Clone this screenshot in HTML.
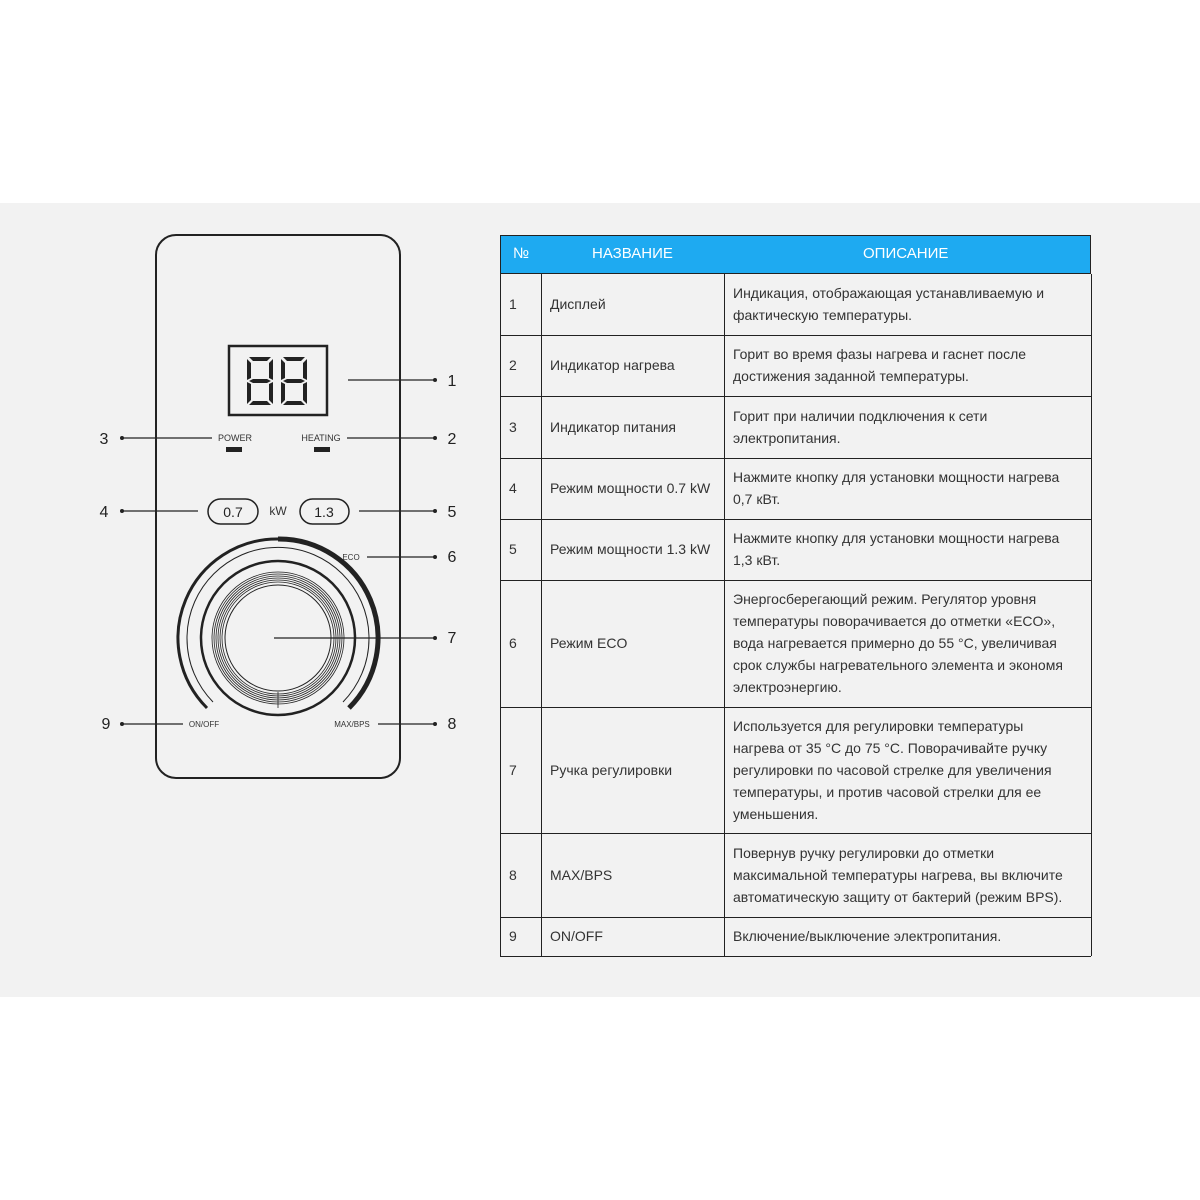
<!DOCTYPE html>
<html><head><meta charset="utf-8"><style>
body{margin:0;width:1200px;height:1200px;background:#fff;position:relative;font-family:"Liberation Sans","DejaVu Sans",sans-serif;overflow:hidden}
.band{position:absolute;left:0;top:203px;width:1200px;height:794px;background:#f2f2f2}
svg{position:absolute;left:0;top:0}
.t{position:absolute;font-size:14px;color:#333;line-height:22px}
.hd{position:absolute;left:500px;top:235px;width:591px;height:39px;background:#1eaaf1;border:1px solid #222;box-sizing:border-box}
.hd span{position:absolute;color:#fff;font-size:15px;top:9px}
.h{position:absolute;height:1px;background:#222;left:500px;width:591px}
.v{position:absolute;width:1px;background:#222;top:274px;height:682px}
</style></head><body>
<div class="band"></div>
<svg width="1200" height="1200" viewBox="0 0 1200 1200" font-family="Liberation Sans, sans-serif">
<rect x="156" y="235" width="244" height="543" rx="20" fill="none" stroke="#222" stroke-width="2"/>
<rect x="229" y="346" width="98" height="69" fill="none" stroke="#222" stroke-width="2.5"/>
<g fill="#222">
<g id="d">
<polygon points="249,357 271,357 267,361 253,361"/>
<polygon points="247,359 251,363 251,378 247,380"/>
<polygon points="273,359 269,363 269,378 273,380"/>
<polygon points="249,381 253,379 267,379 271,381 267,383 253,383"/>
<polygon points="247,382 251,384 251,400 247,404"/>
<polygon points="273,382 269,384 269,400 273,404"/>
<polygon points="249,405 253,401 267,401 271,405"/>
</g>
<use href="#d" x="34"/>
</g>
<g font-size="9" fill="#333" text-anchor="middle">
<text x="235" y="441">POWER</text><text x="321" y="441">HEATING</text>
<text x="278" y="515" font-size="12">kW</text>
<text x="351" y="560" font-size="8">ECO</text>
<text x="204" y="727" font-size="8">ON/OFF</text>
<text x="352" y="727" font-size="8">MAX/BPS</text>
</g>
<rect x="226" y="447" width="16" height="5" fill="#222"/>
<rect x="314" y="447" width="16" height="5" fill="#222"/>
<rect x="208" y="499" width="50" height="25" rx="12.5" fill="none" stroke="#222" stroke-width="1.5"/>
<rect x="300" y="499" width="49" height="25" rx="12.5" fill="none" stroke="#222" stroke-width="1.5"/>
<text x="233" y="517" font-size="14" text-anchor="middle" fill="#222">0.7</text>
<text x="324" y="517" font-size="14" text-anchor="middle" fill="#222">1.3</text>
<g fill="none" stroke="#222">
<path d="M207,708 A99,99 0 0 1 278,539" stroke-width="3"/>
<path d="M278,539 A99,99 0 0 1 349,708" stroke-width="5"/>
<path d="M213,702 A91,91 0 1 1 343,702" stroke-width="1"/>
<circle cx="278" cy="638" r="77" stroke-width="2.5"/>
<circle cx="278" cy="638" r="66" stroke-width="0.8"/>
<circle cx="278" cy="638" r="64" stroke-width="0.8"/>
<circle cx="278" cy="638" r="62" stroke-width="0.8"/>
<circle cx="278" cy="638" r="60" stroke-width="0.8"/>
<circle cx="278" cy="638" r="58" stroke-width="0.8"/>
<circle cx="278" cy="638" r="56" stroke-width="0.8"/>
<circle cx="278" cy="638" r="53" stroke-width="1"/>
<line x1="278" y1="692" x2="278" y2="708" stroke-width="0.8"/>
<g stroke-width="1.2">
<line x1="348" y1="380" x2="435" y2="380"/>
<line x1="122" y1="438" x2="212" y2="438"/>
<line x1="347" y1="438" x2="435" y2="438"/>
<line x1="122" y1="511" x2="198" y2="511"/>
<line x1="359" y1="511" x2="435" y2="511"/>
<line x1="367" y1="557" x2="435" y2="557"/>
<line x1="274" y1="638" x2="435" y2="638"/>
<line x1="378" y1="724" x2="435" y2="724"/>
<line x1="122" y1="724" x2="183" y2="724"/>
</g></g>
<g fill="#222">
<circle cx="435" cy="380" r="2"/><circle cx="122" cy="438" r="2"/><circle cx="435" cy="438" r="2"/>
<circle cx="122" cy="511" r="2"/><circle cx="435" cy="511" r="2"/><circle cx="435" cy="557" r="2"/>
<circle cx="435" cy="638" r="2"/><circle cx="435" cy="724" r="2"/><circle cx="122" cy="724" r="2"/>
</g>
<g font-size="16" fill="#222" text-anchor="middle">
<text x="452" y="386">1</text><text x="452" y="444">2</text><text x="104" y="444">3</text>
<text x="104" y="517">4</text><text x="452" y="517">5</text><text x="452" y="562">6</text>
<text x="452" y="643">7</text><text x="452" y="729">8</text><text x="106" y="729">9</text>
</g>
</svg>
<div class="hd"><span style="left:12px">№</span><span style="left:91px">НАЗВАНИЕ</span><span style="left:362px">ОПИСАНИЕ</span></div>
<div class="h" style="top:335px"></div><div class="h" style="top:396px"></div><div class="h" style="top:458px"></div>
<div class="h" style="top:519px"></div><div class="h" style="top:580px"></div><div class="h" style="top:707px"></div>
<div class="h" style="top:833px"></div><div class="h" style="top:917px"></div><div class="h" style="top:956px"></div>
<div class="v" style="left:500px"></div><div class="v" style="left:541px"></div><div class="v" style="left:724px"></div><div class="v" style="left:1091px"></div>
<div class="t" style="left:509px;top:293px">1</div><div class="t" style="left:550px;top:293px">Дисплей</div>
<div class="t" style="left:733px;top:282px">Индикация, отображающая устанавливаемую и<br>фактическую температуры.</div>
<div class="t" style="left:509px;top:354px">2</div><div class="t" style="left:550px;top:354px">Индикатор нагрева</div>
<div class="t" style="left:733px;top:343px">Горит во время фазы нагрева и гаснет после<br>достижения заданной температуры.</div>
<div class="t" style="left:509px;top:416px">3</div><div class="t" style="left:550px;top:416px">Индикатор питания</div>
<div class="t" style="left:733px;top:405px">Горит при наличии подключения к сети<br>электропитания.</div>
<div class="t" style="left:509px;top:477px">4</div><div class="t" style="left:550px;top:477px">Режим мощности 0.7 kW</div>
<div class="t" style="left:733px;top:466px">Нажмите кнопку для установки мощности нагрева<br>0,7 кВт.</div>
<div class="t" style="left:509px;top:538px">5</div><div class="t" style="left:550px;top:538px">Режим мощности 1.3 kW</div>
<div class="t" style="left:733px;top:527px">Нажмите кнопку для установки мощности нагрева<br>1,3 кВт.</div>
<div class="t" style="left:509px;top:632px">6</div><div class="t" style="left:550px;top:632px">Режим ECO</div>
<div class="t" style="left:733px;top:588px">Энергосберегающий режим. Регулятор уровня<br>температуры поворачивается до отметки «ECO»,<br>вода нагревается примерно до 55 °C, увеличивая<br>срок службы нагревательного элемента и экономя<br>электроэнергию.</div>
<div class="t" style="left:509px;top:759px">7</div><div class="t" style="left:550px;top:759px">Ручка регулировки</div>
<div class="t" style="left:733px;top:715px">Используется для регулировки температуры<br>нагрева от 35 °C до 75 °C. Поворачивайте ручку<br>регулировки по часовой стрелке для увеличения<br>температуры, и против часовой стрелки для ее<br>уменьшения.</div>
<div class="t" style="left:509px;top:864px">8</div><div class="t" style="left:550px;top:864px">MAX/BPS</div>
<div class="t" style="left:733px;top:842px">Повернув ручку регулировки до отметки<br>максимальной температуры нагрева, вы включите<br>автоматическую защиту от бактерий (режим BPS).</div>
<div class="t" style="left:509px;top:925px">9</div><div class="t" style="left:550px;top:925px">ON/OFF</div>
<div class="t" style="left:733px;top:925px">Включение/выключение электропитания.</div>
</body></html>
